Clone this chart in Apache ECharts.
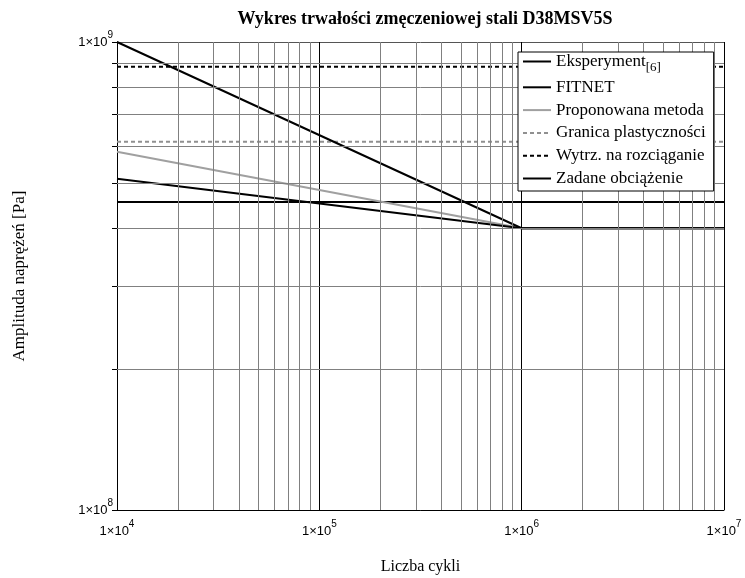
<!DOCTYPE html>
<html><head><meta charset="utf-8">
<script src="https://cdn.jsdelivr.net/npm/echarts@6/dist/echarts.min.js"></script>
<style>html,body{margin:0;padding:0;background:#fff}#c{width:745px;height:578px}</style>
</head><body><div id="c"></div>
<script>
// ---- data ----
const cycles = [1e4, 1e6, 1e7];
const experiment = [1e9, 4e8, 4e8];
const fitnet = [5.1e8, 4e8, 4e8];
const proposed = [5.83e8, 4e8, 4e8];
const limitCycles = [1e4, 1e7];
const yieldLimit = [6.12e8, 6.12e8];
const tensileStrength = [8.85e8, 8.85e8];
const appliedLoad = [4.55e8, 4.55e8];
const xMinorGrid = [2e4,3e4,4e4,5e4,6e4,7e4,8e4,9e4,2e5,3e5,4e5,5e5,6e5,7e5,8e5,9e5,2e6,3e6,4e6,5e6,6e6,7e6,8e6,9e6];
const yMinorGrid = [2e8,3e8,4e8,5e8,6e8,7e8,8e8,9e8];
const names = ['Eksperyment','FITNET','Proponowana metoda','Granica plastyczności','Wytrz. na rozciąganie','Zadane obciążenie'];
const titleText = 'Wykres trwałości zmęczeniowej stali D38MSV5S';
const xName = 'Liczba cykli';
const yName = 'Amplituda naprężeń [Pa]';

const SERIF = "'Liberation Serif','Times New Roman',serif";
const SANS = "'Liberation Sans',Arial,sans-serif";

function pairs(xs, ys){ return xs.map((x,i)=>[x, ys[i]]); }
function powLabel(v){ const e = Math.round(Math.log10(v)); return '{b|1×10}{s|' + e + '}'; }
const labelRich = {
  b:{fontSize:13, fontFamily:SANS, color:'#000', lineHeight:24},
  s:{fontSize:10, fontFamily:SANS, color:'#000', height:10, lineHeight:24, verticalAlign:'top'}
};

const chart = echarts.init(document.getElementById('c'), null, {renderer:'canvas'});
const lineBase = {type:'line', symbol:'none', showSymbol:false, animation:false, z:3};
chart.setOption({
  animation:false,
  backgroundColor:'#fff',
  title:{text:titleText, left:420, top:5, textAlign:'center',
    textStyle:{fontFamily:SERIF, fontSize:18, fontWeight:'bold', color:'#000'}},
  grid:{left:117, right:21, top:42, bottom:68, containLabel:false, outerBoundsMode:'none'},
  legend:{
    data:names, orient:'vertical', left:518, top:52, z:20, zlevel:0,
    backgroundColor:'#fff', borderColor:'#000', borderWidth:1, borderRadius:0,
    padding:[0,8,3,4], itemWidth:28, itemHeight:14, itemGap:3.8,
    selectedMode:false,
    itemStyle:{opacity:0, borderWidth:0, color:'rgba(0,0,0,0)'},
    formatter: n => n === 'Eksperyment' ? '{m|Eksperyment}{u|[6]}' : '{m|' + n + '}',
    textStyle:{fontFamily:SERIF, fontSize:17, color:'#000', lineHeight:19,
      rich:{ m:{fontFamily:SERIF, fontSize:17, color:'#000', lineHeight:19},
             u:{fontFamily:SERIF, fontSize:13, color:'#000', height:7, lineHeight:19, verticalAlign:'bottom'} }}
  },
  xAxis:{type:'log', logBase:10, min:1e4, max:1e7,
    name:xName, nameLocation:'middle', nameGap:49,
    nameTextStyle:{fontFamily:SERIF, fontSize:16, color:'#000'},
    axisLine:{show:true, lineStyle:{color:'#000', width:1}},
    axisTick:{show:false},
    axisLabel:{margin:9, formatter:powLabel, rich:labelRich},
    splitLine:{show:true, lineStyle:{color:'#000', width:1}},
    minorSplitLine:{show:false}
  },
  yAxis:{type:'log', logBase:10, min:1e8, max:1e9,
    name:yName, nameLocation:'middle', nameGap:89,
    nameTextStyle:{fontFamily:SERIF, fontSize:17, color:'#000'},
    axisLine:{show:true, lineStyle:{color:'#000', width:1}},
    axisTick:{show:true, inside:false, length:5, lineStyle:{color:'#000'}},
    axisLabel:{margin:4, formatter:powLabel, rich:labelRich},
    splitLine:{show:true, lineStyle:{color:'#555', width:1}}
  },
  series:[
    {type:'line', name:'grid', data:[], z:1, silent:true, animation:false,
     markLine:{silent:true, symbol:['none','none'], animation:false, label:{show:false},
       lineStyle:{color:'#808080', width:1, type:'solid'},
       emphasis:{disabled:true},
       data: xMinorGrid.map(v=>({xAxis:v})).concat(yMinorGrid.map(v=>({yAxis:v})))}},
    {type:'line', name:'ticks', data:[], z:1, silent:true, animation:false, clip:false,
     markLine:{silent:true, symbol:['none','none'], animation:false, label:{show:false},
       lineStyle:{color:'#000', width:1, type:'solid'},
       emphasis:{disabled:true},
       data: yMinorGrid.map(v=>[{x:112, yAxis:v},{x:117, yAxis:v}])}},
    Object.assign({}, lineBase, {name:'Granica plastyczności', data:pairs(limitCycles, yieldLimit),
      lineStyle:{color:'#909090', width:2, type:[4,3]}, itemStyle:{color:'#909090'}}),
    Object.assign({}, lineBase, {name:'Wytrz. na rozciąganie', data:pairs(limitCycles, tensileStrength),
      lineStyle:{color:'#000', width:2, type:[4,3]}, itemStyle:{color:'#000'}}),
    Object.assign({}, lineBase, {name:'Zadane obciążenie', data:pairs(limitCycles, appliedLoad),
      lineStyle:{color:'#000', width:2}, itemStyle:{color:'#000'}}),
    Object.assign({}, lineBase, {name:'Proponowana metoda', data:pairs(cycles, proposed),
      lineStyle:{color:'#a0a0a0', width:2}, itemStyle:{color:'#a0a0a0'}}),
    Object.assign({}, lineBase, {name:'FITNET', data:pairs(cycles, fitnet),
      lineStyle:{color:'#000', width:2}, itemStyle:{color:'#000'}}),
    Object.assign({}, lineBase, {name:'Eksperyment', data:pairs(cycles, experiment),
      lineStyle:{color:'#000', width:2}, itemStyle:{color:'#000'}})
  ]
});
</script></body></html>
